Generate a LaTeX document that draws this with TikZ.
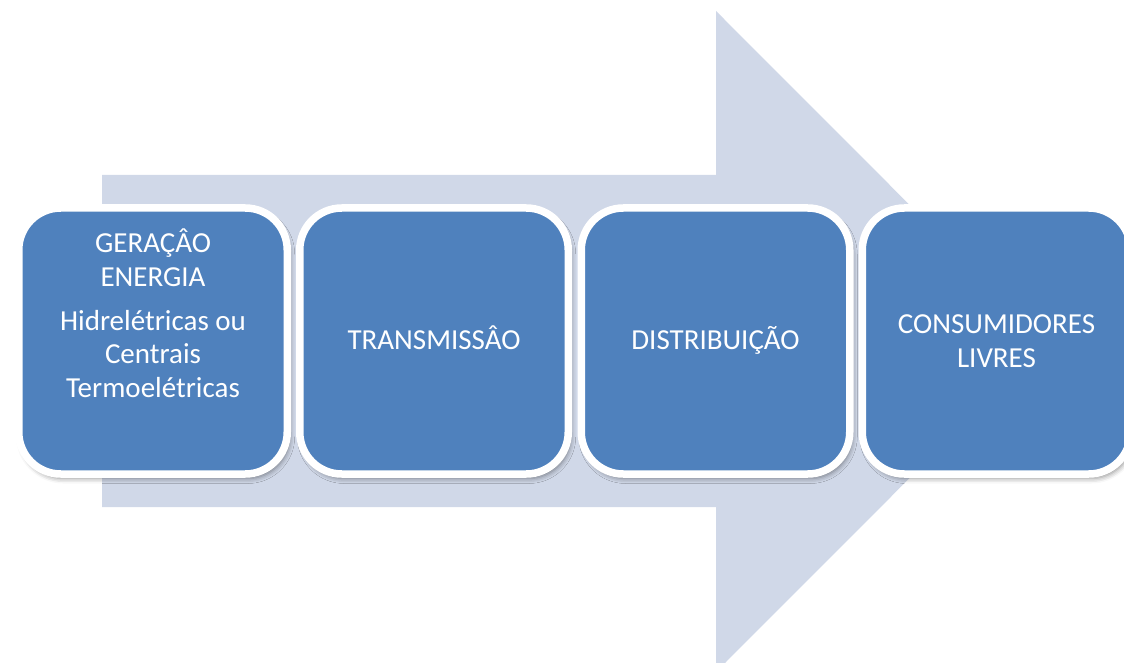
\documentclass[tikz,border=0pt]{standalone}
\usepackage{fontspec}
\setmainfont{Carlito}
\usetikzlibrary{shadows.blur}
\definecolor{flowarrow}{HTML}{D0D8E8}
\definecolor{boxblue}{HTML}{4F81BD}
\begin{document}
\begin{tikzpicture}[x=1pt,y=-1pt,
  stagebox/.style={draw=white, line width=7.5pt, fill=boxblue,
    rounded corners=42pt, minimum width=268.5pt, minimum height=266pt,
    inner sep=0pt,
    blur shadow={shadow xshift=2.5pt, shadow yshift=-4.5pt,
      shadow blur radius=5pt, shadow opacity=45}},
  stagetext/.style={text=white, align=center, inner sep=0pt,
    font=\fontsize{29}{33.5}\selectfont}]
  \useasboundingbox (0,0) rectangle (1124,663);
  \clip (0,0) rectangle (1124,663);
  % broad flow arrow behind the stages
  \fill[flowarrow] (102,175) -- (716,175) -- (716,11) -- (1046,341.5)
    -- (716,672) -- (716,507) -- (102,507) -- cycle;
  % stage boxes
  \node[stagebox] (b1) at (153,341) {};
  \node[stagebox] (b2) at (434,341) {};
  \node[stagebox] (b3) at (715.5,341) {};
  \node[stagebox] (b4) at (996.5,341) {};
  % stage labels (base anchor sits on the last line)
  \node[stagetext, anchor=base] (t1) at (153,397)
    {GERAÇÂO\\ENERGIA\\[10.5pt]Hidrelétricas ou\\Centrais\\Termoelétricas};
  \node[stagetext, anchor=base] (t2) at (434,349) {TRANSMISSÂO};
  \node[stagetext, anchor=base] (t3) at (715.5,349) {DISTRIBUIÇÃO};
  \node[stagetext, anchor=base] (t4) at (996.5,367) {CONSUMIDORES\\LIVRES};
\end{tikzpicture}
\end{document}
